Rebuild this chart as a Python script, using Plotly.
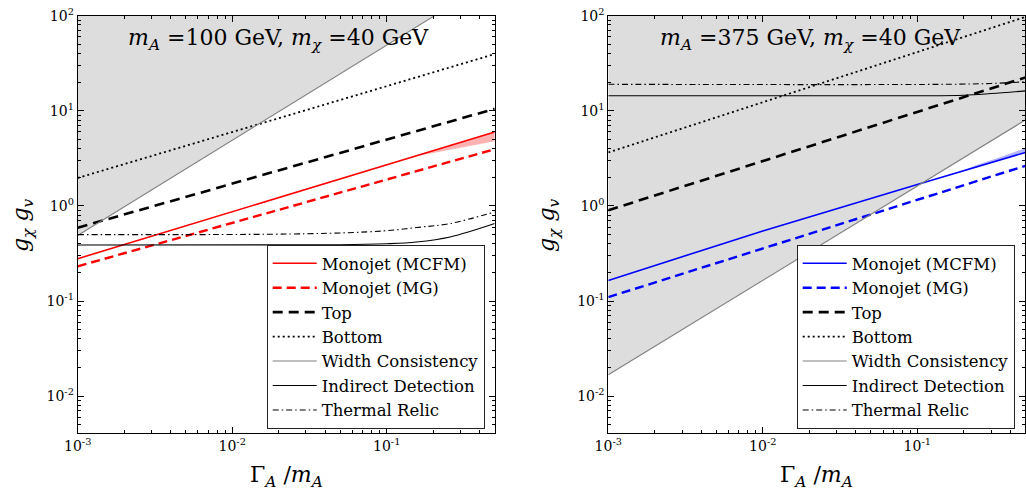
import plotly.graph_objects as go

# ---------------- data ----------------
X_TICKS = [1e-3, 1e-2, 1e-1]
X_TICK_TEXT = ["10<sup>-3</sup>", "10<sup>-2</sup>", "10<sup>-1</sup>"]
Y_TICKS = [1e-2, 1e-1, 1, 10, 100]
Y_TICK_TEXT = ["10<sup>-2</sup>", "10<sup>-1</sup>", "10<sup>0</sup>", "10<sup>1</sup>", "10<sup>2</sup>"]
X_MINOR = [2e-3, 3e-3, 4e-3, 5e-3, 6e-3, 7e-3, 8e-3, 9e-3,
           2e-2, 3e-2, 4e-2, 5e-2, 6e-2, 7e-2, 8e-2, 9e-2,
           0.2, 0.3, 0.4, 0.5]
Y_MINOR = [5e-3, 6e-3, 7e-3, 8e-3, 9e-3,
           0.02, 0.03, 0.04, 0.05, 0.06, 0.07, 0.08, 0.09,
           0.2, 0.3, 0.4, 0.5, 0.6, 0.7, 0.8, 0.9,
           2, 3, 4, 5, 6, 7, 8, 9,
           20, 30, 40, 50, 60, 70, 80, 90]

X_ENDS = [0.001, 0.5]

# left panel: m_A = 100 GeV
L_TITLE = "<i>m</i><sub><i>A</i></sub> =100 GeV, <i>m</i><sub><i>χ</i></sub> =40 GeV"
L_MCFM_Y = [0.279, 6.0]
L_BAND_X = [0.14, 0.2, 0.3, 0.5]
L_BAND_HI = [3.23, 3.83, 4.68, 6.0]
L_BAND_LO = [3.23, 3.6, 4.1, 4.8]
L_MG_Y = [0.232, 3.95]
L_TOP_Y = [0.59, 10.5]
L_BOT_Y = [1.97, 39.5]
L_WC_Y = [0.49, 245.0]
L_ID_X = [0.001, 0.05, 0.1, 0.156, 0.257, 0.5]
L_ID_Y = [0.389, 0.39, 0.40, 0.418, 0.472, 0.653]
L_TR_X = [0.001, 0.03, 0.095, 0.156, 0.257, 0.5]
L_TR_Y = [0.5, 0.51, 0.546, 0.593, 0.653, 0.865]

# right panel: m_A = 375 GeV
R_TITLE = "<i>m</i><sub><i>A</i></sub> =375 GeV, <i>m</i><sub><i>χ</i></sub> =40 GeV"
R_MCFM_X = [0.001, 0.01, 0.1, 0.5]
R_MCFM_Y = [0.165, 0.546, 1.68, 3.65]
R_BAND_X = [0.17, 0.25, 0.35, 0.5]
R_BAND_HI = [2.16, 2.75, 3.3, 4.05]
R_BAND_LO = [2.16, 2.61, 3.06, 3.65]
R_MG_Y = [0.110, 2.64]
R_TOP_Y = [0.90, 22.4]
R_BOT_Y = [3.65, 97.0]
R_WC_Y = [0.0168, 8.0]
R_ID_X = [0.001, 0.1, 0.2, 0.3, 0.5]
R_ID_Y = [14.4, 14.4, 14.6, 15.2, 16.2]
R_TR_X = [0.001, 0.15, 0.3, 0.5]
R_TR_Y = [19.0, 19.0, 19.4, 20.2]

LEGEND_NAMES = ["Monojet (MCFM)", "Monojet (MG)", "Top", "Bottom",
                "Width Consistency", "Indirect Detection", "Thermal Relic"]

# ---------------- styling ----------------
W, H = 1026, 494
OFF = 0.0  # page body margin is removed by the post script below
FONT = "DejaVu Serif"
FILL_GRAY = "#dddddd"
LINE_GRAY = "#808080"
FILL_TOP = 1000.0  # beyond the visible range, clipped by the axes


def px(v):
    return (v - OFF) / W


def py(v):
    return 1 - (v - OFF) / H


fig = go.Figure()


def add_panel(xa, ya, leg, color, band_rgba, mcfm_x, mcfm_y, band_x, band_hi, band_lo,
              mg_y, top_y, bot_y, wc_y, id_x, id_y, tr_x, tr_y):
    # width-consistency excluded (grey) region: above the line
    fig.add_trace(go.Scatter(
        x=X_ENDS + [X_ENDS[1], X_ENDS[0]], y=wc_y + [FILL_TOP, FILL_TOP],
        fill="toself", fillcolor=FILL_GRAY, line=dict(width=0), mode="lines",
        showlegend=False, hoverinfo="skip", xaxis=xa, yaxis=ya))
    # monojet uncertainty band
    fig.add_trace(go.Scatter(
        x=band_x + band_x[::-1], y=band_hi + band_lo[::-1],
        fill="toself", fillcolor=band_rgba, line=dict(width=0), mode="lines",
        showlegend=False, hoverinfo="skip", xaxis=xa, yaxis=ya))
    common = dict(mode="lines", xaxis=xa, yaxis=ya, legend=leg)
    fig.add_trace(go.Scatter(x=mcfm_x, y=mcfm_y, name=LEGEND_NAMES[0],
                             line=dict(color=color, width=1.6), **common))
    fig.add_trace(go.Scatter(x=X_ENDS, y=mg_y, name=LEGEND_NAMES[1],
                             line=dict(color=color, width=2.4, dash="9px,5px"), **common))
    fig.add_trace(go.Scatter(x=X_ENDS, y=top_y, name=LEGEND_NAMES[2],
                             line=dict(color="black", width=2.6, dash="10px,6px"), **common))
    fig.add_trace(go.Scatter(x=X_ENDS, y=bot_y, name=LEGEND_NAMES[3],
                             line=dict(color="black", width=1.8, dash="2px,3px"), **common))
    fig.add_trace(go.Scatter(x=X_ENDS, y=wc_y, name=LEGEND_NAMES[4],
                             line=dict(color=LINE_GRAY, width=1.1), **common))
    fig.add_trace(go.Scatter(x=id_x, y=id_y, name=LEGEND_NAMES[5], line_shape="spline",
                             line=dict(color="black", width=1.1), **common))
    fig.add_trace(go.Scatter(x=tr_x, y=tr_y, name=LEGEND_NAMES[6], line_shape="spline",
                             line=dict(color="black", width=1.1, dash="6px,3px,1.5px,3px"),
                             **common))


add_panel("x", "y", "legend", "red", "rgba(255,0,0,0.3)", X_ENDS, L_MCFM_Y,
          L_BAND_X, L_BAND_HI, L_BAND_LO, L_MG_Y, L_TOP_Y, L_BOT_Y, L_WC_Y,
          L_ID_X, L_ID_Y, L_TR_X, L_TR_Y)
add_panel("x2", "y2", "legend2", "blue", "rgba(0,0,255,0.3)", R_MCFM_X, R_MCFM_Y,
          R_BAND_X, R_BAND_HI, R_BAND_LO, R_MG_Y, R_TOP_Y, R_BOT_Y, R_WC_Y,
          R_ID_X, R_ID_Y, R_TR_X, R_TR_Y)

# panel geometry in screen pixels
L_X0, L_X1 = 77.7, 494.7
R_X0, R_X1 = 608.3, 1025.3
Y_TOP, Y_BOT = 15.7, 433.3

axis_common = dict(
    type="log", showgrid=False, zeroline=False, showline=True, linecolor="black",
    linewidth=1, mirror="allticks", ticks="inside", ticklen=6, tickwidth=1,
    tickcolor="black", tickfont=dict(family=FONT, size=14, color="black"),
    automargin=False, ticklabeloverflow="allow",
)
xaxis_common = dict(axis_common, range=[-3, -0.301], tickvals=X_TICKS, ticktext=X_TICK_TEXT,
                    minor=dict(tickvals=X_MINOR, ticks="inside", ticklen=3,
                               tickcolor="black", showgrid=False))
yaxis_common = dict(axis_common, range=[-2.39, 2], tickvals=Y_TICKS, ticktext=Y_TICK_TEXT,
                    minor=dict(tickvals=Y_MINOR, ticks="inside", ticklen=3,
                               tickcolor="black", showgrid=False))

ydom = [py(Y_BOT), py(Y_TOP)]
legend_common = dict(
    bgcolor="white", bordercolor="#222222", borderwidth=1,
    font=dict(family=FONT, size=16.5, color="black"),
    xanchor="left", yanchor="top", itemwidth=44, tracegroupgap=0,
)

fig.update_layout(
    width=W, height=H, margin=dict(l=0, r=0, t=0, b=0),
    paper_bgcolor="white", plot_bgcolor="white",
    xaxis=dict(xaxis_common, domain=[px(L_X0), px(L_X1)], anchor="y"),
    yaxis=dict(yaxis_common, domain=ydom, anchor="x"),
    xaxis2=dict(xaxis_common, domain=[px(R_X0), min(px(R_X1), 1.0)], anchor="y2"),
    yaxis2=dict(yaxis_common, domain=ydom, anchor="x2"),
    legend=dict(legend_common, x=px(266.7), y=py(245.0)),
    legend2=dict(legend_common, x=px(796.7), y=py(245.0)),
)

ann_font_big = dict(family=FONT, size=22, color="black")
annotations = []
for cx, title in [(278, L_TITLE), (810, R_TITLE)]:
    annotations.append(dict(text=title, x=px(cx), y=py(40), xref="paper", yref="paper",
                            showarrow=False, font=ann_font_big, xanchor="center",
                            yanchor="middle"))
for cx in [(L_X0 + L_X1) / 2, (R_X0 + R_X1) / 2]:
    annotations.append(dict(text="Γ<sub><i>A</i></sub> /<i>m</i><sub><i>A</i></sub>",
                            x=px(cx), y=py(476), xref="paper", yref="paper",
                            showarrow=False, font=ann_font_big, xanchor="center",
                            yanchor="middle"))
for cx in [22, 548]:
    annotations.append(dict(text="<i>g</i><sub><i>χ</i></sub> <i>g</i><sub><i>v</i></sub>",
                            x=px(cx), y=py(225), xref="paper", yref="paper",
                            showarrow=False, font=ann_font_big, textangle=-90,
                            xanchor="center", yanchor="middle"))
fig.update_layout(annotations=annotations)

fig.write_html(
    "out.html",
    config={"displayModeBar": False},
    post_script="document.body.style.margin='0px';document.body.style.overflow='hidden';",
)
